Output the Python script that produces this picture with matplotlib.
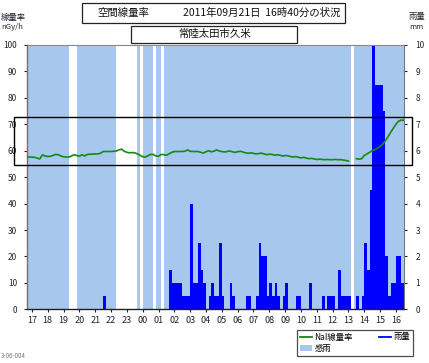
import matplotlib
matplotlib.use("Agg")
import matplotlib.pyplot as plt
from matplotlib.patches import Rectangle, Patch
from matplotlib.lines import Line2D
import numpy as np

plt.rcParams['font.family'] = ['Noto Sans CJK JP', 'DejaVu Sans']

# 10-minute bins from 16:40 (9/20) to 16:40 (9/21)
start_hour = 16 + 40 / 60

# NaI dose rate, nGy/h (NaN = no data)
dose = [
    57.6, 57.6, 57.6, 57.5, 57.2, 56.9, 58.4, 58.0, 57.8, 57.9, 58.2, 58.6,
    58.5, 58.0, 57.7, 57.6, 57.6, 58.0, 58.5, 58.2, 57.9, 58.5, 58.0, 58.6,
    58.7, 58.7, 58.8, 58.8, 59.0, 59.7, 59.7, 59.7, 59.7, 59.8, 59.9, 60.3,
    60.6, 59.8, 59.4, 59.2, 59.3, 59.2, 58.8, 58.3, 57.7, 57.6, 58.1, 58.6,
    58.6, 58.0, 57.9, 58.6, 58.5, 58.3, 58.8, 59.4, 59.7, 59.7, 59.7, 59.7,
    59.8, 60.3, 59.8, 59.7, 59.7, 59.7, 59.4, 59.1, 59.6, 60.0, 59.6, 59.8,
    60.3, 59.9, 59.7, 59.5, 59.7, 59.9, 59.6, 59.4, 59.6, 59.8, 59.5, 59.2,
    59.0, 59.2, 59.0, 58.8, 58.9, 59.1, 58.8, 58.5, 58.7, 58.6, 58.3, 58.5,
    58.3, 58.0, 58.2, 58.1, 57.8, 57.6, 57.8, 57.5, 57.3, 57.5, 57.2, 57.0,
    57.1, 56.9, 56.7, 56.8, 56.7, 56.6, 56.7, 56.6, 56.6, 56.7, 56.6, 56.6,
    56.5, 56.3, 56.1, np.nan, np.nan, 57.0, 56.8, 57.0, 58.2, 58.8, 59.4, 60.0,
    60.4, 61.0, 61.6, 62.5, 63.8, 65.3, 67.0, 68.5, 70.0, 71.2, 71.6, 71.5,
]

# rainfall per 10 min, mm
rain = [
    0, 0, 0, 0, 0, 0, 0, 0, 0, 0, 0, 0,
    0, 0, 0, 0, 0, 0, 0, 0, 0, 0, 0, 0,
    0, 0, 0, 0, 0, 0.5, 0, 0, 0, 0, 0, 0,
    0, 0, 0, 0, 0, 0, 0, 0, 0, 0, 0, 0,
    0, 0, 0, 0, 0, 0, 1.5, 1, 1, 1, 1, 0.5,
    0.5, 0.5, 4, 1, 1, 2.5, 1.5, 1, 0, 0.5, 1, 0.5,
    0.5, 2.5, 0.5, 0, 0, 1, 0.5, 0, 0, 0, 0, 0.5,
    0.5, 0, 0, 0.5, 2.5, 2, 2, 0.5, 1, 0.5, 1, 0.5,
    0, 0.5, 1, 0, 0, 0, 0.5, 0.5, 0, 0, 0, 1,
    0, 0, 0, 0, 0.5, 0, 0.5, 0.5, 0.5, 0, 1.5, 0.5,
    0.5, 0.5, 0.5, 0, 0, 0.5, 0, 0.5, 2.5, 1.5, 4.5, 10,
    8.5, 8.5, 8.5, 7.5, 2, 0.5, 1, 1, 2, 2, 1, 1,
]

# rain sensor on (感雨) periods
sense_start = ["16:40", "19:50", "23:40", "00:00", "00:50", "01:20", "13:20"]
sense_end = ["19:20", "22:20", "23:50", "00:40", "01:10", "13:10", "16:40"]

hour_labels = ["17", "18", "19", "20", "21", "22", "23", "00", "01", "02", "03", "04",
               "05", "06", "07", "08", "09", "10", "11", "12", "13", "14", "15", "16"]


def to_hours(s, is_end=False):
    h, m = s.split(":")
    v = int(h) + int(m) / 60
    if v < start_hour - 0.01 or (is_end and v <= start_hour + 0.01):
        v += 24
    return v


times = start_hour + np.arange(len(rain)) / 6

W, H = 429, 363
fig = plt.figure(figsize=(W / 100, H / 100), dpi=100)
fig.patch.set_facecolor("white")


def fx(px):
    return px / W


def fy(py):
    return 1 - py / H


ax = fig.add_axes([fx(26.6), fy(309.3), fx(404.3) - fx(26.6), fy(45) - fy(309.3)])
ax2 = ax.twinx()
ax.set_zorder(ax2.get_zorder() + 1)
ax.patch.set_visible(False)

sky = "#a6c8ee"
for s, e in zip(sense_start, sense_end):
    ax2.axvspan(to_hours(s), to_hours(e, True), color=sky, lw=0, zorder=0)

ax2.bar(times, rain, width=1 / 6, align="edge", color="#0000ff", lw=0, zorder=2)
ax.plot(times, dose, color="#138a13", lw=1.2, zorder=3)

xmax = start_hour + (404.3 - 26.6) / 15.83
ax.set_xlim(start_hour, xmax)
ax.set_ylim(0, 100)
ax2.set_ylim(0, 10)

ax.set_yticks(range(0, 101, 10))
ax2.set_yticks(range(0, 11))
ax.set_xticks(np.arange(17, 41))
ax.set_xticklabels(hour_labels)

tc = "#222233"
ax.tick_params(axis="y", direction="out", length=2, pad=5, labelsize=6, colors=tc)
ax2.tick_params(axis="y", direction="out", length=2, pad=6, labelsize=6, colors=tc)
ax.tick_params(axis="x", direction="out", length=2, pad=3, labelsize=6.5, colors=tc)

ax.spines["left"].set_color("#b05070")
ax.spines["left"].set_linewidth(1.0)
ax.spines["bottom"].set_color("#222222")
ax.spines["bottom"].set_linewidth(1.0)
ax2.spines["right"].set_color("#777777")
ax2.spines["top"].set_color("#888888")
ax2.spines["top"].set_linewidth(0.8)
ax.spines["top"].set_visible(False)
ax.spines["right"].set_visible(False)
ax2.spines["left"].set_visible(False)
ax2.spines["bottom"].set_visible(False)

# title boxes
fig.add_artist(Rectangle((fx(82), fy(23)), fx(345) - fx(82), fy(3) - fy(23),
                         transform=fig.transFigure, fill=False, ec="#222222", lw=0.9))
fig.text(fx(97), fy(13), "空間線量率", fontsize=7.5, va="center", ha="left", color="#111111")
fig.text(fx(183), fy(13), "2011年09月21日  16時40分の状況", fontsize=7.5, va="center",
         ha="left", color="#111111")
fig.add_artist(Rectangle((fx(131), fy(43)), fx(297) - fx(131), fy(26) - fy(43),
                         transform=fig.transFigure, fill=False, ec="#222222", lw=0.9))
fig.text(fx(214), fy(34.5), "常陸太田市久米", fontsize=7.5, va="center", ha="center",
         color="#111111")

# axis titles
fig.text(fx(1), fy(17), "線量率", fontsize=6, va="center", ha="left", color=tc)
fig.text(fx(1), fy(27), "nGy/h", fontsize=5.5, va="center", ha="left", color=tc)
fig.text(fx(425), fy(17), "雨量", fontsize=6, va="center", ha="right", color=tc)
fig.text(fx(424), fy(27), "mm", fontsize=5.5, va="center", ha="right", color=tc)

# highlight frame
fig.add_artist(Rectangle((fx(14), fy(165)), fx(412) - fx(14), fy(117) - fy(165),
                         transform=fig.transFigure, fill=False, ec="black", lw=1.0, zorder=10))

# legend
handles = [Line2D([], [], color="#138a13", lw=1.3),
           Patch(facecolor=sky, edgecolor="none"),
           Line2D([], [], color="#0000ff", lw=1.3)]
labels = ["NaI線量率", "感雨", "雨量"]
leg = fig.legend(handles, labels, ncol=2, loc="upper left",
                 bbox_to_anchor=(fx(297), fy(330)), fontsize=6, frameon=True,
                 fancybox=False, borderpad=0.3, handlelength=1.5, handletextpad=0.3,
                 columnspacing=3.1, labelspacing=0.3, borderaxespad=0)
leg.get_frame().set_edgecolor("#222222")
leg.get_frame().set_linewidth(0.9)

fig.text(fx(1), fy(356), "3-06-004", fontsize=4.5, va="center", ha="left", color="#777777")

fig.savefig("out.png", dpi=100)
